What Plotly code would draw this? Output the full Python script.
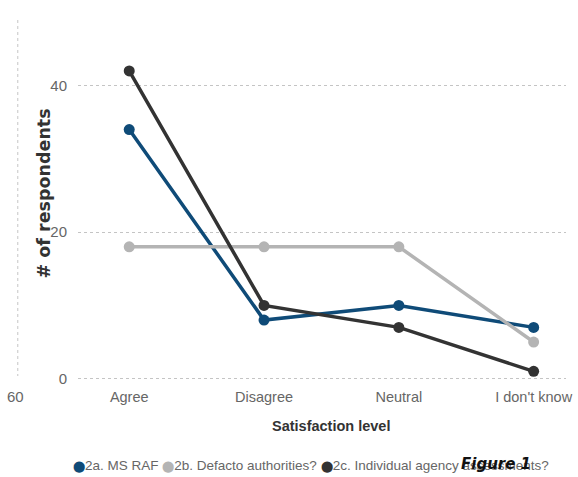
import plotly.graph_objects as go

# Survey responses by satisfaction level
categories = ["Agree", "Disagree", "Neutral", "I don't know"]
series_names = [
    "2a. MS RAF",
    "2b. Defacto authorities?",
    "2c. Individual agency assessments?",
]
ms_raf = [34, 8, 10, 7]
defacto = [18, 18, 18, 5]
individual = [42, 10, 7, 1]
y_ticks = [0, 20, 40]

colors = ["#0f4b78", "#b4b4b4", "#333333"]
sans = "Liberation Sans, Arial, sans-serif"

fig = go.Figure()
for name, vals, col in zip(series_names, [ms_raf, defacto, individual], colors):
    fig.add_trace(go.Scatter(
        x=categories, y=vals, name=name, mode="lines+markers",
        line=dict(color=col, width=3.5),
        marker=dict(color=col, size=11),
        showlegend=False, hoverinfo="skip",
    ))

W, H = 578, 477
ml, mr, mt, mb = 78, 6, 49, 91
pw, ph = W - ml - mr, H - mt - mb


def px(x):
    return (x - ml) / pw


def py(y):
    return (H - mb - y) / ph


fig.update_layout(
    width=W, height=H,
    margin=dict(l=ml, r=mr, t=mt, b=mb, pad=0),
    plot_bgcolor="white", paper_bgcolor="white",
    showlegend=False,
    xaxis=dict(
        type="category", range=[-0.38, 3.24],
        showgrid=False, zeroline=False, showline=False, ticks="",
        tickfont=dict(family=sans, size=14.5, color="#666666"),
    ),
    yaxis=dict(
        range=[-1, 45], tickvals=y_ticks,
        showgrid=True, gridcolor="#c4c4c4", griddash="dot", gridwidth=1.2,
        zeroline=False, showline=False, ticks="",
        ticklabelstandoff=10,
        tickfont=dict(family=sans, size=15, color="#666666"),
    ),
)


def label(x, y, text, font, **kw):
    fig.add_annotation(
        x=px(x), y=py(y), xref="paper", yref="paper", showarrow=False,
        xanchor=kw.pop("xanchor", "center"), yanchor="middle",
        text=text, font=font, **kw,
    )


# Axis titles
label(334, 426, "<b>Satisfaction level</b>",
      dict(family=sans, size=14.5, color="#333333"))
label(44, 193, "<b># of respondents</b>",
      dict(family="DejaVu Sans", size=17.5, color="#333333"), textangle=-90)

# Secondary axis remnant on the far left
fig.add_shape(
    type="line", xref="paper", yref="paper",
    x0=px(17), x1=px(17), y0=py(20), y1=py(376),
    line=dict(color="#cfcfcf", width=1.2, dash="dot"),
)
label(15, 397, "60", dict(family=sans, size=15, color="#666666"))

# Legend row
legend_text = "".join(
    f"<span style='color:{c};font-size:10.5px'>⬤</span>{n} "
    for n, c in zip(series_names, colors)
)
label(71, 465, legend_text.strip(), dict(family=sans, size=13.5, color="#666666"),
      xanchor="left")
label(501, 464, "<b><i>Figure 1</i></b>",
      dict(family="DejaVu Sans", size=15, color="#111111"))

fig.write_html("out.html")
